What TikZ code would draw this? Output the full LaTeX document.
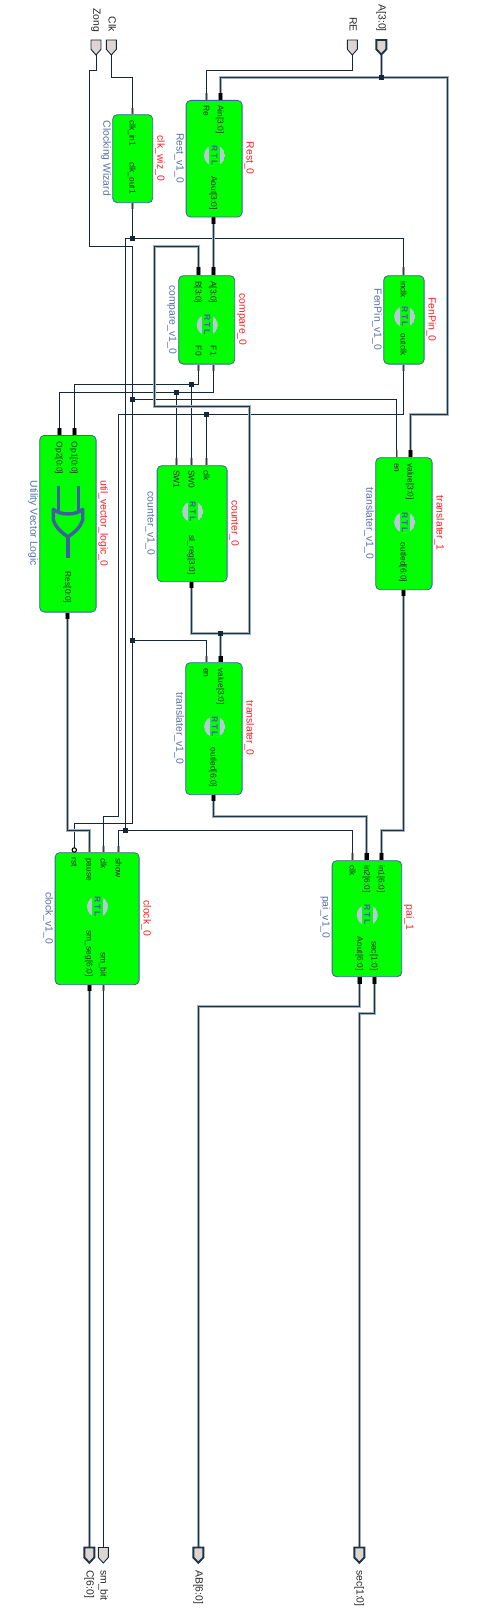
\documentclass[tikz,border=0pt]{standalone}
\usepackage{fontspec}
\setmainfont{Liberation Sans}
\definecolor{wirec}{HTML}{14283C}
\definecolor{busc}{HTML}{1F3348}
\definecolor{haloc}{HTML}{A3AFBA}
\definecolor{boxb}{HTML}{3F5FA0}
\definecolor{portf}{HTML}{DDD5D0}
\definecolor{rtlc}{HTML}{B8C8D8}
\definecolor{instc}{HTML}{FF2020}
\definecolor{typec}{HTML}{5570A8}
\tikzset{
  wire/.style={draw=wirec,line width=1pt},
  bus/.style={draw=busc,line width=1.4pt,preaction={draw=haloc,line width=2.6pt}},
  stubthin/.style={draw=black!75,line width=1.2pt,preaction={draw=black!35,line width=2.4pt}},
  stubbus/.style={draw=black,line width=3.6pt,preaction={draw=black!45,line width=4.8pt}},
  junc/.style={fill=wirec,draw=none,minimum size=5.3pt,inner sep=0pt,rectangle},
  bub/.style={fill=white,draw=black,line width=1.1pt,circle,minimum size=4.4pt,inner sep=0pt},
  ipbox/.style={draw=boxb,fill=green,line width=.8pt,rounded corners=4.5pt,rectangle,inner sep=0pt},
  plabel/.style={rotate=-90,inner sep=0pt,font=\fontsize{8.4}{9}\selectfont,text=black!85},
  inlab/.style={plabel,anchor=mid west},
  outlab/.style={plabel,anchor=mid east},
  instlab/.style={rotate=-90,anchor=base,inner sep=0pt,font=\fontsize{10.4}{12}\selectfont,text=instc},
  typelab/.style={rotate=-90,anchor=base,inner sep=0pt,font=\fontsize{10.4}{12}\selectfont,text=typec},
  extlab/.style={rotate=-90,inner sep=0pt,font=\fontsize{10.4}{12}\selectfont,text=black!85},
  portthin/.style={fill=portf,draw=wirec,line width=.9pt,line join=miter},
  portbus/.style={fill=portf,draw=busc,line width=1.9pt,line join=miter},
  rtltext/.style={rotate=-90,inner sep=0pt,text=boxb,font=\fontsize{8.5}{9}\selectfont\bfseries\addfontfeature{LetterSpace=22}},
}
\newcommand{\rtlbadge}[3]{% name,x,y
  \begin{scope}
    \clip (#2,#3) circle (10.5);
    \fill[rtlc] (#2,#3) circle (10.5);
    \fill[green] (#2-5.2,#3-12) rectangle (#2+5.2,#3+12);
  \end{scope}
  \node[rtltext] (#1) at (#2,#3) {RTL};
}
\begin{document}
\begin{tikzpicture}[x=1pt,y=-1pt]
\useasboundingbox (0,0) rectangle (479,1613);
\fill[white] (0,0) rectangle (479,1613);
% IP boxes
\node[ipbox,minimum width=40pt,minimum height=88pt,anchor=north west] (clkwiz) at (112.3,114.3) {};
\node[ipbox,minimum width=56pt,minimum height=116.7pt,anchor=north west] (rest) at (185.7,100) {};
\node[ipbox,minimum width=56pt,minimum height=88.4pt,anchor=north west] (compare) at (178.3,275.3) {};
\node[ipbox,minimum width=40.4pt,minimum height=88.4pt,anchor=north west] (fenpin) at (383.3,275.3) {};
\node[ipbox,minimum width=56.4pt,minimum height=176.7pt,anchor=north west] (util) at (39.3,435) {};
\node[ipbox,minimum width=70pt,minimum height=116pt,anchor=north west] (counter) at (156.7,465.3) {};
\node[ipbox,minimum width=56.4pt,minimum height=132pt,anchor=north west] (transa) at (375.3,457.3) {};
\node[ipbox,minimum width=56.4pt,minimum height=132pt,anchor=north west] (transb) at (185.3,662.3) {};
\node[ipbox,minimum width=84pt,minimum height=132pt,anchor=north west] (clock) at (54.7,852.3) {};
\node[ipbox,minimum width=69.6pt,minimum height=116pt,anchor=north west] (pai) at (331.7,860.3) {};
% port ends
\coordinate (zongp) at (96,55);
\coordinate (clkp) at (111.3,55);
\coordinate (rep) at (352.3,55);
\coordinate (ap) at (381.3,55);
\coordinate (cp) at (89.3,1546.7);
\coordinate (smbp) at (103.3,1547.5);
\coordinate (abp) at (198.3,1546.7);
\coordinate (secp) at (359.3,1546.7);
% stub ends
\coordinate (wizin) at (132.3,108);
\coordinate (wizout) at (132.3,209);
\coordinate (restre) at (206.3,92.7);
\coordinate (restain) at (220.3,92.7);
\coordinate (restout) at (213.3,224);
\coordinate (cmpa) at (213.3,267.3);
\coordinate (cmpb) at (198.3,267.3);
\coordinate (cmpf1) at (213.3,370.5);
\coordinate (cmpf0) at (198.3,370.5);
\coordinate (feni) at (403.3,267.3);
\coordinate (feno) at (403.3,370.5);
\coordinate (utila) at (74.3,428);
\coordinate (utilb) at (59.3,428);
\coordinate (utilr) at (67.3,618.5);
\coordinate (cntsa) at (176.3,458.3);
\coordinate (cntsb) at (191.3,458.3);
\coordinate (cntck) at (206.3,458.3);
\coordinate (cntout) at (191.3,588);
\coordinate (taen) at (396.7,450);
\coordinate (taval) at (410.3,450);
\coordinate (taout) at (403.3,596);
\coordinate (tben) at (206.3,655.5);
\coordinate (tbval) at (220.7,655.5);
\coordinate (tbout) at (213.3,801);
\coordinate (ckrst) at (74.3,848);
\coordinate (ckpause) at (89.3,845.7);
\coordinate (ckclk) at (103.3,845.7);
\coordinate (ckshow) at (118.3,845.7);
\coordinate (ckseg) at (89.3,991);
\coordinate (ckbit) at (103.3,991);
\coordinate (paick) at (352.3,852.5);
\coordinate (paib) at (366.7,852.5);
\coordinate (paia) at (381.3,852.5);
\coordinate (paiout) at (359.7,983.5);
\coordinate (paisec) at (374.3,983.5);
% wires: thin
\draw[wire] (zongp) |- (89.3,70.3) -- (89.3,246.3) -- (132.3,246.3) -- (132.3,823.3) -| (ckrst);
\draw[wire] (clkp) |- (132.3,77.3) -- (wizin);
\draw[wire] (rep) |- (206.3,70.3) -- (restre);
\draw[wire] (wizout) -- (132.3,238.3);
\draw[wire] (125.7,238.3) -- (403.3,238.3) -- (feni);
\draw[wire] (125.7,238.3) -- (125.7,830.3) -| (ckshow);
\draw[wire] (125.7,830.3) -| (paick);
\draw[wire] (cmpf0) |- (74.3,384.3) -- (utila);
\draw[wire] (191.3,384.3) -- (cntsb);
\draw[wire] (cmpf1) |- (59.3,392.3) -- (utilb);
\draw[wire] (176.3,392.3) -- (cntsa);
\draw[wire] (feno) |- (118.3,414.3) -- (118.3,816.3) -| (ckclk);
\draw[wire] (206.3,414.3) -- (cntck);
\draw[wire] (132.3,399.3) -| (taen);
\draw[wire] (132.3,640.3) -| (tben);
% wires: bus
\draw[bus] (ap) -- (381.3,77.3);
\draw[bus] (restain) |- (447.7,77.3) -- (447.7,414.3) -| (taval);
\draw[bus] (restout) -- (cmpa);
\draw[bus] (cmpb) |- (154.7,246.7) -- (154.7,406.7) -- (249.7,406.7) -- (249.7,633.3) -| (cntout);
\draw[bus] (220.7,633.3) -- (tbval);
\draw[bus] (taout) |- (381.3,830.3) -- (paia);
\draw[bus] (tbout) |- (366.7,816.3) -- (paib);
\draw[bus] (utilr) |- (89.3,830.3) -- (ckpause);
\draw[bus] (ckseg) -- (cp);
\draw[wire] (ckbit) -- (smbp);
\draw[bus] (paiout) |- (198.3,1006.7) -- (abp);
\draw[bus] (paisec) |- (359.3,1013.3) -- (secp);
% junctions
\node[junc] (j1) at (381.3,77.3) {};
\node[junc] (j2) at (132.3,238.3) {};
\node[junc] (j3) at (191.3,384.3) {};
\node[junc] (j4) at (176.3,392.3) {};
\node[junc] (j5) at (132.3,399.3) {};
\node[junc] (j6) at (206.3,414.3) {};
\node[junc] (j7) at (220.7,633.3) {};
\node[junc] (j8) at (132.3,640.3) {};
\node[junc] (j9) at (125.7,830.3) {};
% stubs
\draw[stubthin] (wizin) -- (wizin |- clkwiz.north);
\draw[stubthin] (wizout) -- (wizout |- clkwiz.south);
\draw[stubthin] (restre) -- (restre |- rest.north);
\draw[stubbus] (restain) -- (restain |- rest.north);
\draw[stubbus] (restout) -- (restout |- rest.south);
\draw[stubbus] (cmpa) -- (cmpa |- compare.north);
\draw[stubbus] (cmpb) -- (cmpb |- compare.north);
\draw[stubthin] (cmpf1) -- (cmpf1 |- compare.south);
\draw[stubthin] (cmpf0) -- (cmpf0 |- compare.south);
\draw[stubthin] (feni) -- (feni |- fenpin.north);
\draw[stubthin] (feno) -- (feno |- fenpin.south);
\draw[stubbus] (utila) -- (utila |- util.north);
\draw[stubbus] (utilb) -- (utilb |- util.north);
\draw[stubbus] (utilr) -- (utilr |- util.south);
\draw[stubthin] (cntsa) -- (cntsa |- counter.north);
\draw[stubthin] (cntsb) -- (cntsb |- counter.north);
\draw[stubthin] (cntck) -- (cntck |- counter.north);
\draw[stubbus] (cntout) -- (cntout |- counter.south);
\draw[stubthin] (taen) -- (taen |- transa.north);
\draw[stubbus] (taval) -- (taval |- transa.north);
\draw[stubbus] (taout) -- (taout |- transa.south);
\draw[stubthin] (tben) -- (tben |- transb.north);
\draw[stubbus] (tbval) -- (tbval |- transb.north);
\draw[stubbus] (tbout) -- (tbout |- transb.south);
\draw[stubthin] (ckpause) -- (ckpause |- clock.north);
\draw[stubthin] (ckclk) -- (ckclk |- clock.north);
\draw[stubthin] (ckshow) -- (ckshow |- clock.north);
\draw[stubbus] (ckseg) -- (ckseg |- clock.south);
\draw[stubthin] (ckbit) -- (ckbit |- clock.south);
\draw[stubthin] (paick) -- (paick |- pai.north);
\draw[stubbus] (paib) -- (paib |- pai.north);
\draw[stubbus] (paia) -- (paia |- pai.north);
\draw[stubbus] (paiout) -- (paiout |- pai.south);
\draw[stubbus] (paisec) -- (paisec |- pai.south);
\node[bub] (rstb) at (74.3,850) {};
% external ports
\draw[portthin] (91,40) -- (101,40) -- (101,49.3) -- (96,55) -- (91,49.3) -- cycle;
\draw[portthin] (106.3,40) -- (116.3,40) -- (116.3,49.3) -- (111.3,55) -- (106.3,49.3) -- cycle;
\draw[portthin] (347.3,40) -- (357.3,40) -- (357.3,49.3) -- (352.3,55) -- (347.3,49.3) -- cycle;
\draw[portbus] (376.3,40) -- (386.3,40) -- (386.3,49.3) -- (381.3,54.5) -- (376.3,49.3) -- cycle;
\draw[portbus] (84.3,1547.5) -- (94.3,1547.5) -- (94.3,1557.5) -- (89.3,1562.7) -- (84.3,1557.5) -- cycle;
\draw[portthin] (98.3,1547.5) -- (108.3,1547.5) -- (108.3,1557.5) -- (103.3,1563) -- (98.3,1557.5) -- cycle;
\draw[portbus] (193.3,1547.5) -- (203.3,1547.5) -- (203.3,1557.5) -- (198.3,1562.7) -- (193.3,1557.5) -- cycle;
\draw[portbus] (354.3,1547.5) -- (364.3,1547.5) -- (364.3,1557.5) -- (359.3,1562.7) -- (354.3,1557.5) -- cycle;
\node[extlab,anchor=mid east] (lzong) at (96,32) {Zong};
\node[extlab,anchor=mid east] (lclk) at (111.3,32) {Clk};
\node[extlab,anchor=mid east] (lre) at (352.3,32) {RE};
\node[extlab,anchor=mid east] (la) at (381.3,32) {A[3:0]};
\node[extlab,anchor=mid west] (lc) at (89.3,1570) {C[6:0]};
\node[extlab,anchor=mid west] (lsmb) at (103.3,1570) {sm\_bit};
\node[extlab,anchor=mid west] (lab) at (198.3,1570) {AB[6:0]};
\node[extlab,anchor=mid west] (lsec) at (359.3,1570) {sec[1:0]};
% RTL badges
\rtlbadge{rtla}{214.5}{155.5}
\rtlbadge{rtlb}{207.3}{325}
\rtlbadge{rtlc1}{404.7}{316.7}
\rtlbadge{rtld}{192.7}{511.7}
\rtlbadge{rtle}{404.7}{522.3}
\rtlbadge{rtlf}{214.7}{726.7}
\rtlbadge{rtlg}{97.5}{906.7}
\rtlbadge{rtlh}{367.3}{915}
% gate symbol
\draw[draw=boxb,line width=3.4pt,line cap=butt,line join=miter]
  (58.3,486) -- (58.3,512) (78.3,486) -- (78.3,512) (67.9,536) -- (67.9,557.5);
\draw[draw=boxb,line width=3.4pt,line join=round]
  (53.3,509.3) .. controls (60,515.5) and (76,515.5) .. (82.7,509.3)
  -- (82.7,520) .. controls (80,528) and (74,533) .. (67.9,536.8)
  .. controls (62,533) and (56,528) .. (53.3,520) -- cycle;
% instance names
\node[instlab] (n1) at (157.3,158.3) {clk\_wiz\_0};
\node[typelab] (t1) at (103.3,158.3) {Clocking Wizard};
\node[instlab] (n2) at (246.7,158.3) {Rest\_0};
\node[typelab] (t2) at (176.7,158.3) {Rest\_v1\_0};
\node[instlab] (n3) at (239.3,319.5) {compare\_0};
\node[typelab] (t3) at (169.3,319.5) {compare\_v1\_0};
\node[instlab] (n4) at (428.7,319.5) {FenPin\_0};
\node[typelab] (t4) at (374.3,319.5) {FenPin\_v1\_0};
\node[instlab] (n5) at (100.7,523.3) {util\_vector\_logic\_0};
\node[typelab] (t5) at (30.3,523.3) {Utility Vector Logic};
\node[instlab] (n6) at (231.7,523.3) {counter\_0};
\node[typelab] (t6) at (147.7,523.3) {counter\_v1\_0};
\node[instlab] (n7) at (436.7,523.3) {translater\_1};
\node[typelab] (t7) at (366.3,523.3) {translater\_v1\_0};
\node[instlab] (n8) at (246.7,728.3) {translater\_0};
\node[typelab] (t8) at (176.3,728.3) {translater\_v1\_0};
\node[instlab] (n9) at (143.7,918.3) {clock\_0};
\node[typelab] (t9) at (45.7,918.3) {clock\_v1\_0};
\node[instlab] (n10) at (406.3,917.3) {pai\_1};
\node[typelab] (t10) at (322.7,917.3) {pai\_v1\_0};
% port labels
\node[inlab] (p1) at (132.3,120) {clk\_in1};
\node[outlab] (p2) at (132.3,194) {clk\_out1};
\node[inlab] (p3) at (220.3,105) {Ain[3:0]};
\node[inlab] (p4) at (206.3,105) {Re};
\node[outlab] (p5) at (213.8,210) {Aout[3:0]};
\node[inlab] (p6) at (213.3,281) {A[3:0]};
\node[inlab] (p7) at (198.3,281) {B[3:0]};
\node[outlab] (p8) at (213.3,356) {F1};
\node[outlab] (p9) at (198.3,356) {F0};
\node[inlab] (p10) at (403.3,281) {inclk};
\node[outlab] (p11) at (403.3,355.7) {outclk};
\node[inlab] (p12) at (74.3,441.7) {Op1[0:0]};
\node[inlab] (p13) at (59.3,441.7) {Op2[0:0]};
\node[outlab] (p14) at (67.7,603.3) {Res[0:0]};
\node[inlab] (p15) at (206.3,470) {clk};
\node[inlab] (p16) at (191.3,470) {SW0};
\node[inlab] (p17) at (176.3,470) {SW1};
\node[outlab] (p18) at (191.7,575) {sl\_reg[3:0]};
\node[inlab] (p19) at (396.7,463) {en};
\node[inlab] (p20) at (410.3,463) {value[3:0]};
\node[outlab] (p21) at (403.3,582.3) {outled[6:0]};
\node[inlab] (p22) at (206.3,668) {en};
\node[inlab] (p23) at (220.7,668) {value[3:0]};
\node[outlab] (p24) at (213.3,787.3) {outled[6:0]};
\node[inlab] (p25) at (74.3,857.5) {rst};
\node[inlab] (p26) at (89.3,858) {pause};
\node[inlab] (p27) at (103.3,858) {clk};
\node[inlab] (p28) at (118.3,858) {show};
\node[outlab] (p29) at (89.3,976.7) {sm\_seg[6:0]};
\node[outlab] (p30) at (103.3,977) {sm\_bit};
\node[inlab] (p31) at (352.3,865) {clk};
\node[inlab] (p32) at (366.7,865) {in2[6:0]};
\node[inlab] (p33) at (381.3,865) {in1[6:0]};
\node[outlab] (p34) at (359.7,970.7) {Aout[6:0]};
\node[outlab] (p35) at (374.3,970.7) {sec[1:0]};
\end{tikzpicture}
\end{document}
